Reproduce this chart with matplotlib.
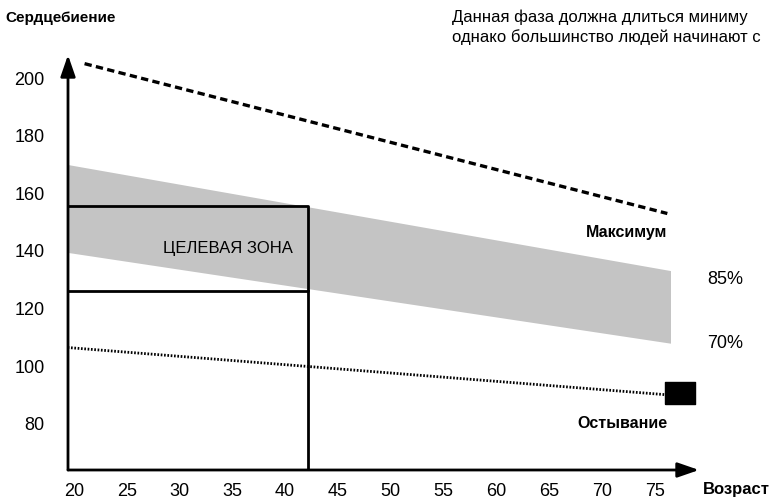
import matplotlib.pyplot as plt

plt.rcParams['font.family'] = ['Liberation Sans', 'DejaVu Sans']

# data
x_ticks = [20, 25, 30, 35, 40, 45, 50, 55, 60, 65, 70, 75]
y_ticks = [80, 100, 120, 140, 160, 180, 200]
age_max = [21, 76.2]
hr_max = [205, 153]
age_band = [19.4, 76.5]
hr_85 = [170, 133.2]
hr_70 = [139.5, 108]
age_cool = [19.4, 76.5]
hr_cool = [106.5, 90]
cool_end = (77.4, 90.6)
zone_age = 42.2
zone_low, zone_high = 126, 155.5
note_lines = ['Данная фаза должна длиться миниму',
              'однако большинство людей начинают с']

x0, x1 = 19.43, 79.2
y0, y1 = 64, 208

fig = plt.figure(figsize=(7.73, 4.98), dpi=100)
ax = fig.add_axes([68 / 773, 28 / 498, 631 / 773, 415 / 498])
ax.set_xlim(x0, x1)
ax.set_ylim(y0, y1)
for s in ax.spines.values():
    s.set_visible(False)

# band between 70% and 85%
ax.fill_between(age_band, hr_70, hr_85, color='#c4c4c4', lw=0)

# maximum and cool-down lines
ax.plot(age_max, hr_max, color='black', lw=2.4, ls=(0, (2.2, 1.3)))
ax.plot(age_cool, hr_cool, color='black', lw=2.0, ls=(0, (0.6, 0.6)))
box = [(-1, -0.75), (1, -0.75), (1, 0.75), (-1, 0.75), (-1, -0.75)]
ax.plot([cool_end[0]], [cool_end[1]], marker=box, color='black',
        markersize=21, clip_on=False)

# target zone
ax.plot([x0, zone_age, zone_age, x0], [zone_high, zone_high, zone_low, zone_low],
        color='black', lw=2.0)
ax.plot([zone_age, zone_age], [zone_low, y0], color='black', lw=2.0)

# axes with arrows
arrow = dict(arrowstyle='-|>,head_length=1.3,head_width=0.45',
             color='black', lw=2.0, shrinkA=0, shrinkB=0)
ax.annotate('', xy=(x1, y0), xytext=(x0, y0), arrowprops=arrow,
            annotation_clip=False)
ax.annotate('', xy=(x0, y1), xytext=(x0, y0), arrowprops=arrow,
            annotation_clip=False)

ax.set_xticks(x_ticks)
ax.set_yticks(y_ticks)
ax.tick_params(length=0, labelsize=13)
ax.tick_params(axis='x', pad=9)
ax.tick_params(axis='y', pad=17)

ax.text(40.7, 141, 'ЦЕЛЕВАЯ ЗОНА', ha='right', va='center', fontsize=12)
ax.text(76.2, 146.5, 'Максимум', ha='right', va='center', fontsize=11.5, fontweight='bold')
ax.text(80.0, 130, '85%', ha='left', va='center', fontsize=13)
ax.text(80.0, 108, '70%', ha='left', va='center', fontsize=13)
ax.text(76.2, 80, 'Остывание', ha='right', va='center', fontsize=11.5, fontweight='bold')

fig.text(5 / 773, 1 - 18 / 498, 'Сердцебиение', ha='left', va='center',
         fontsize=11, fontweight='bold')
fig.text(703 / 773, 1 - 489 / 498, 'Возраст', ha='left', va='center',
         fontsize=12, fontweight='bold')
fig.text(452 / 773, 1 - 17 / 498, note_lines[0], ha='left', va='center', fontsize=12)
fig.text(452 / 773, 1 - 37 / 498, note_lines[1], ha='left', va='center', fontsize=12)

fig.savefig('out.png', dpi=100)
